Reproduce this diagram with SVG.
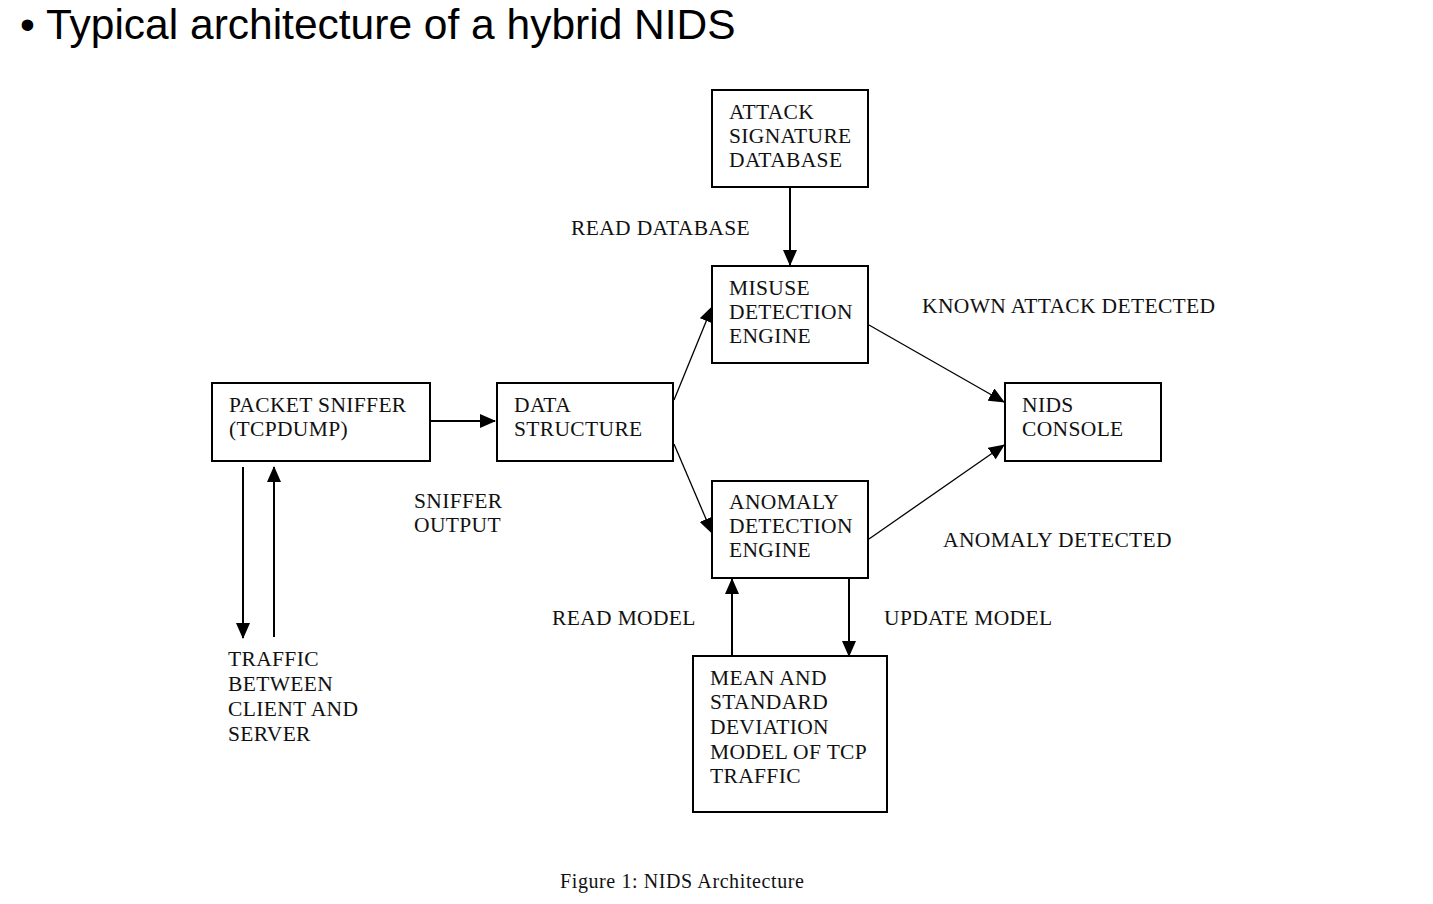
<svg xmlns="http://www.w3.org/2000/svg" width="1433" height="904" viewBox="0 0 1433 904">
<defs>
<marker id="ah" markerUnits="userSpaceOnUse" markerWidth="16" markerHeight="14" viewBox="0 0 16 14" refX="15" refY="7" orient="auto">
<path d="M0,0 L16,7 L0,14 Z" fill="#000"/>
</marker>
<style>
.box{fill:#fff;stroke:#000;stroke-width:2}
.t{font-family:"Liberation Serif","Times New Roman",serif;font-size:21.5px;letter-spacing:0.35px;fill:#111}
.c{fill:none;stroke:#000;stroke-width:2;marker-end:url(#ah)}
.d{fill:none;stroke:#000;stroke-width:1.3;marker-end:url(#ah)}
</style>
</defs>
<rect width="1433" height="904" fill="#fff"/>
<text x="20" y="39" font-family="Liberation Sans, Arial, sans-serif" font-size="42.5" fill="#000">• Typical architecture of a hybrid NIDS</text>

<g id="connectors">
<line class="c" x1="790" y1="188" x2="790" y2="265"/>
<line class="c" x1="431" y1="421" x2="495" y2="421"/>
<line class="c" x1="243" y1="467" x2="243" y2="638"/>
<line class="c" x1="274" y1="637" x2="274" y2="467"/>
<line class="d" x1="674" y1="400" x2="712" y2="307"/>
<line class="d" x1="674" y1="444" x2="712" y2="533"/>
<line class="d" x1="869" y1="325" x2="1004" y2="402"/>
<line class="d" x1="869" y1="539" x2="1004" y2="445"/>
<line class="c" x1="732" y1="656" x2="732" y2="579"/>
<line class="c" x1="849" y1="579" x2="849" y2="656"/>
</g>

<g id="attack-db">
<rect class="box" x="712" y="90" width="156" height="97"/>
<text class="t" x="729" y="119">ATTACK</text>
<text class="t" x="729" y="143">SIGNATURE</text>
<text class="t" x="729" y="167">DATABASE</text>
</g>
<g id="misuse">
<rect class="box" x="712" y="266" width="156" height="97"/>
<text class="t" x="729" y="295">MISUSE</text>
<text class="t" x="729" y="319">DETECTION</text>
<text class="t" x="729" y="343">ENGINE</text>
</g>
<g id="sniffer">
<rect class="box" x="212" y="383" width="218" height="78"/>
<text class="t" x="229" y="412">PACKET SNIFFER</text>
<text class="t" x="229" y="436">(TCPDUMP)</text>
</g>
<g id="data-structure">
<rect class="box" x="497" y="383" width="176" height="78"/>
<text class="t" x="514" y="412">DATA</text>
<text class="t" x="514" y="436">STRUCTURE</text>
</g>
<g id="console">
<rect class="box" x="1005" y="383" width="156" height="78"/>
<text class="t" x="1022" y="412">NIDS</text>
<text class="t" x="1022" y="436">CONSOLE</text>
</g>
<g id="anomaly">
<rect class="box" x="712" y="481" width="156" height="97"/>
<text class="t" x="729" y="509">ANOMALY</text>
<text class="t" x="729" y="533">DETECTION</text>
<text class="t" x="729" y="557">ENGINE</text>
</g>
<g id="model">
<rect class="box" x="693" y="656" width="194" height="156"/>
<text class="t" x="710" y="685">MEAN AND</text>
<text class="t" x="710" y="709">STANDARD</text>
<text class="t" x="710" y="734">DEVIATION</text>
<text class="t" x="710" y="759">MODEL OF TCP</text>
<text class="t" x="710" y="783">TRAFFIC</text>
</g>

<g id="labels">
<text class="t" x="571" y="235">READ DATABASE</text>
<text class="t" x="922" y="313">KNOWN ATTACK DETECTED</text>
<text class="t" x="414" y="508">SNIFFER</text>
<text class="t" x="414" y="532">OUTPUT</text>
<text class="t" x="943" y="547">ANOMALY DETECTED</text>
<text class="t" x="552" y="625">READ MODEL</text>
<text class="t" x="884" y="625">UPDATE MODEL</text>
<text class="t" x="228" y="666">TRAFFIC</text>
<text class="t" x="228" y="691">BETWEEN</text>
<text class="t" x="228" y="716">CLIENT AND</text>
<text class="t" x="228" y="741">SERVER</text>
</g>
<text x="560" y="888" font-family="Liberation Serif, 'Times New Roman', serif" font-size="20" letter-spacing="0.6" fill="#111">Figure 1: NIDS Architecture</text>
</svg>
